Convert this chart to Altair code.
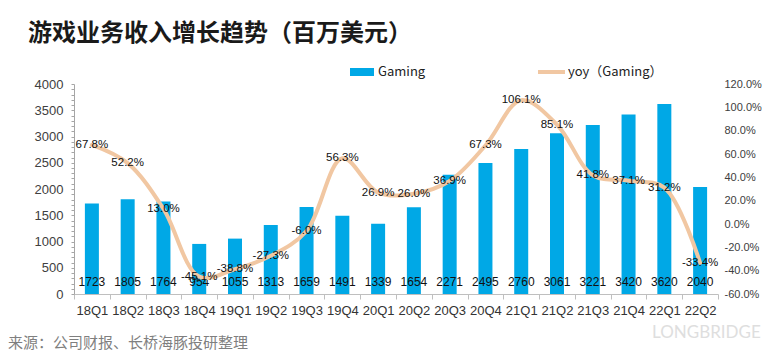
import altair as alt
import pandas as pd

quarters = ["18Q1", "18Q2", "18Q3", "18Q4", "19Q1", "19Q2", "19Q3", "19Q4", "20Q1",
            "20Q2", "20Q3", "20Q4", "21Q1", "21Q2", "21Q3", "21Q4", "22Q1", "22Q2"]
gaming = [1723, 1805, 1764, 954, 1055, 1313, 1659, 1491, 1339,
          1654, 2271, 2495, 2760, 3061, 3221, 3420, 3620, 2040]
yoy_pct = [67.8, 52.2, 13.0, -45.1, -38.8, -27.3, -6.0, 56.3, 26.9,
           26.0, 36.9, 67.3, 106.1, 85.1, 41.8, 37.1, 31.2, -33.4]
left_ticks = list(range(0, 4001, 100))
right_ticks = [-0.6, -0.4, -0.2, 0.0, 0.2, 0.4, 0.6, 0.8, 1.0, 1.2]

df = pd.DataFrame({
    "q": quarters,
    "gaming": gaming,
    "yoy": [v / 100 for v in yoy_pct],
    "yoy_label": [f"{v:.1f}%" for v in yoy_pct],
})
one = pd.DataFrame({"a": [0]})

W, H = 644, 210
FONT = "Noto Sans CJK SC"
NUM = "Liberation Sans"
BAR = "#00a8e6"
LINE = "#f1c7a2"

x_axis = alt.Axis(title=None, labelAngle=0, tickBand="extent",
                  domainColor="#bfbfbf", tickColor="#bfbfbf", tickSize=5,
                  labelFontSize=13, labelColor="#333333", labelPadding=5,
                  labelFont=NUM, labelOverlap=False)
x = alt.X("q:N", sort=quarters, scale=alt.Scale(paddingInner=0, paddingOuter=0), axis=x_axis)

left_axis = alt.Axis(title=None, values=left_ticks, format="d",
                     labelExpr="datum.value % 500 === 0 ? datum.label : ''",
                     labelOverlap=False, labelBound=False, labelFlush=False,
                     grid=False, domainColor="#a6a6a6", tickColor="#a6a6a6",
                     tickSize=3, labelPadding=8, labelFontSize=13,
                     labelColor="#404040", labelFont=NUM)
left_scale = alt.Scale(domain=[0, 4000], nice=False)

right_axis = alt.Axis(title=None, orient="right", values=right_ticks, format=".1%",
                      labelExpr="replace(datum.label, '\u2212', '-')",
                      labelOverlap=False, labelBound=False, labelFlush=False,
                      domain=False, ticks=False, grid=False, labelPadding=6,
                      labelFontSize=11, labelColor="#404040", labelFont=NUM)
right_scale = alt.Scale(domain=[-0.6, 1.2], nice=False)

base = alt.Chart(df)

bars = base.mark_bar(size=14, color=BAR).encode(
    x=x,
    y=alt.Y("gaming:Q", scale=left_scale, axis=left_axis),
)
bar_text = base.mark_text(fontSize=12, font=NUM, color="#111111", baseline="middle", dy=-12).encode(
    x=x,
    y=alt.YDatum(0, scale=left_scale, axis=left_axis),
    text=alt.Text("gaming:Q", format="d"),
)
left = alt.layer(bars, bar_text)

line = base.mark_line(interpolate="catmull-rom", color=LINE, strokeWidth=4, strokeCap="round").encode(
    x=x,
    y=alt.Y("yoy:Q", scale=right_scale, axis=right_axis),
)
line_text = base.mark_text(fontSize=11.5, font=NUM, color="#111111", baseline="middle").encode(
    x=x,
    y=alt.Y("yoy:Q", scale=right_scale, axis=right_axis),
    text=alt.Text("yoy_label:N"),
)
right = alt.layer(line, line_text)

d = alt.Chart(one)
title = d.mark_text(text="游戏业务收入增长趋势（百万美元）", font=FONT, fontSize=24, fontWeight="bold",
                    align="left", baseline="middle", color="#1a1a1a").encode(
    x=alt.value(-46), y=alt.value(-50))
leg_rect = d.mark_rect(color=BAR).encode(
    x=alt.value(276), x2=alt.value(300), y=alt.value(-16), y2=alt.value(-8))
leg_t1 = d.mark_text(text="Gaming", font=FONT, fontSize=13, align="left", baseline="middle",
                     color="#222222").encode(x=alt.value(304), y=alt.value(-12))
leg_line = d.mark_rule(color=LINE, strokeWidth=4).encode(
    x=alt.value(464), x2=alt.value(491), y=alt.value(-12))
leg_t2 = d.mark_text(text="yoy（Gaming）", font=FONT, fontSize=13, align="left", baseline="middle",
                     color="#222222").encode(x=alt.value(494), y=alt.value(-12))
foot = d.mark_text(text="来源：公司财报、长桥海豚投研整理", font=FONT, fontSize=15, align="left",
                   baseline="middle", color="#7f7f7f").encode(x=alt.value(-66), y=alt.value(259))
logo = d.mark_text(text="LONGBRIDGE", font="Lato", fontSize=17, align="left", baseline="middle",
                   color="#dedede").encode(x=alt.value(578), y=alt.value(249))

chart = alt.layer(left, right, title, leg_rect, leg_t1, leg_line, leg_t2, foot, logo).resolve_scale(
    y="independent"
).properties(
    width=W, height=H,
    padding={"left": 66, "top": 76, "right": 44, "bottom": 61},
    autosize=alt.AutoSizeParams(type="none"),
    background="white",
).configure_view(stroke=None)

chart.save("out.html", embed_options={"renderer": "svg", "actions": False})
